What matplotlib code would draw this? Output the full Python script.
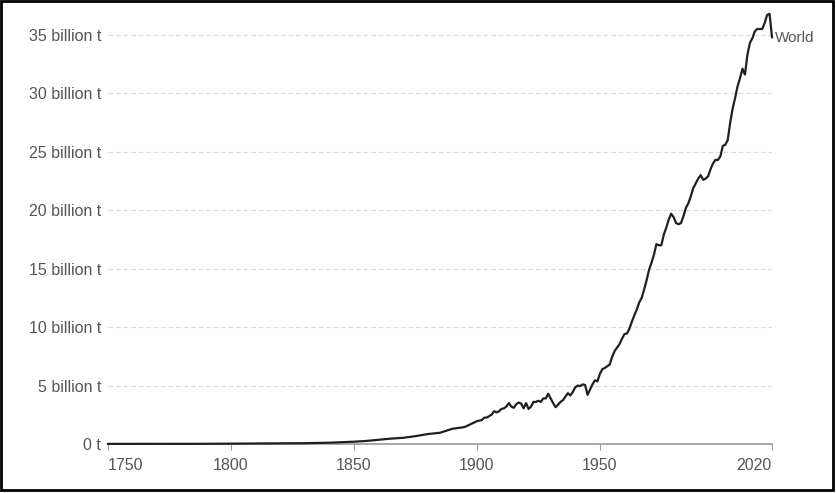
import matplotlib.pyplot as plt
from matplotlib.patches import Rectangle

# Annual global CO2 emissions (billion tonnes)
years = [1750, 1760, 1770, 1780, 1790, 1800, 1810, 1820, 1830, 1840,
         1850, 1855, 1860, 1865, 1870, 1875, 1880, 1885, 1890, 1895,
         1900, 1901, 1902, 1903, 1904, 1905, 1906, 1907, 1908, 1909,
         1910, 1911, 1912, 1913, 1914, 1915, 1916, 1917, 1918, 1919,
         1920, 1921, 1922, 1923, 1924, 1925, 1926, 1927, 1928, 1929,
         1930, 1931, 1932, 1933, 1934, 1935, 1936, 1937, 1938, 1939,
         1940, 1941, 1942, 1943, 1944, 1945, 1946, 1947, 1948, 1949,
         1950, 1951, 1952, 1953, 1954, 1955, 1956, 1957, 1958, 1959,
         1960, 1961, 1962, 1963, 1964, 1965, 1966, 1967, 1968, 1969,
         1970, 1971, 1972, 1973, 1974, 1975, 1976, 1977, 1978, 1979,
         1980, 1981, 1982, 1983, 1984, 1985, 1986, 1987, 1988, 1989,
         1990, 1991, 1992, 1993, 1994, 1995, 1996, 1997, 1998, 1999,
         2000, 2001, 2002, 2003, 2004, 2005, 2006, 2007, 2008, 2009,
         2010, 2011, 2012, 2013, 2014, 2015, 2016, 2017, 2018, 2019,
         2020]
emissions = [0.009, 0.010, 0.011, 0.013, 0.017, 0.028, 0.035, 0.044, 0.07, 0.11,
             0.197, 0.26, 0.36, 0.46, 0.53, 0.67, 0.85, 0.96, 1.3, 1.45,
             1.95, 2.0, 2.05, 2.25, 2.26, 2.39, 2.51, 2.8, 2.7, 2.8,
             3.0, 3.05, 3.2, 3.5, 3.2, 3.1, 3.4, 3.55, 3.45, 3.05,
             3.5, 3.0, 3.2, 3.6, 3.6, 3.7, 3.6, 3.9, 3.9, 4.3,
             3.9, 3.5, 3.15, 3.35, 3.6, 3.75, 4.05, 4.35, 4.15, 4.45,
             4.85, 5.0, 4.95, 5.1, 5.05, 4.2, 4.65, 5.1, 5.45, 5.35,
             6.0, 6.4, 6.5, 6.65, 6.8, 7.45, 7.95, 8.25, 8.55, 9.0,
             9.4, 9.45, 9.85, 10.45, 11.0, 11.5, 12.1, 12.5, 13.2, 14.0,
             14.9, 15.5, 16.2, 17.1, 17.0, 17.0, 17.9, 18.5, 19.2, 19.7,
             19.4, 18.9, 18.8, 18.9, 19.5, 20.2, 20.6, 21.2, 21.9, 22.3,
             22.7, 23.0, 22.6, 22.7, 22.9, 23.5, 24.0, 24.3, 24.3, 24.6,
             25.5, 25.6, 26.0, 27.5, 28.7, 29.6, 30.6, 31.3, 32.1, 31.6,
             33.3, 34.3, 34.7, 35.3, 35.5, 35.5, 35.5, 36.0, 36.7, 36.8,
             34.8]

x_ticks = [1750, 1800, 1850, 1900, 1950, 2020]
y_ticks = [0, 5, 10, 15, 20, 25, 30, 35]
y_labels = ["0 t"] + [f"{v} billion t" for v in y_ticks[1:]]

plt.rcParams['font.family'] = ['Liberation Sans', 'DejaVu Sans']

fig = plt.figure(figsize=(8.36, 4.93), dpi=100)
ax = fig.add_axes([108 / 836, 49 / 493, 664 / 836, 37 * 11.69 / 493])

ax.plot(years, emissions, color="#1f1f24", lw=1.6, clip_on=False, zorder=3)

ax.set_xlim(1750, 2020)
ax.set_ylim(0, 37)

for s in ["top", "right", "left"]:
    ax.spines[s].set_visible(False)
ax.spines["bottom"].set_color("#999999")
ax.spines["bottom"].set_linewidth(1.2)

ax.set_yticks(y_ticks)
ax.set_yticklabels(y_labels)
ax.tick_params(axis="y", length=0, pad=5, labelsize=11.5, labelcolor="#555555")
ax.set_xticks(x_ticks)
ax.set_xticklabels([str(t) for t in x_ticks])
ax.tick_params(axis="x", length=4, color="#999999", pad=6,
               labelsize=11.5, labelcolor="#555555")
xl = ax.get_xticklabels()
xl[0].set_ha("left")
xl[-1].set_ha("right")

for v in y_ticks[1:]:
    ax.axhline(v, color="#dddddd", lw=0.9, ls=(0, (4, 2)), zorder=1)

ax.text(2021.0, emissions[-1] - 0.1, "World", fontsize=11, color="#555555",
        va="center", ha="left", clip_on=False)

fig.patches.append(Rectangle((1 / 836, 3 / 493), 832 / 836, 489 / 493,
                             transform=fig.transFigure, fill=False,
                             edgecolor="black", lw=2, zorder=10))

fig.savefig("out.png", dpi=100)
